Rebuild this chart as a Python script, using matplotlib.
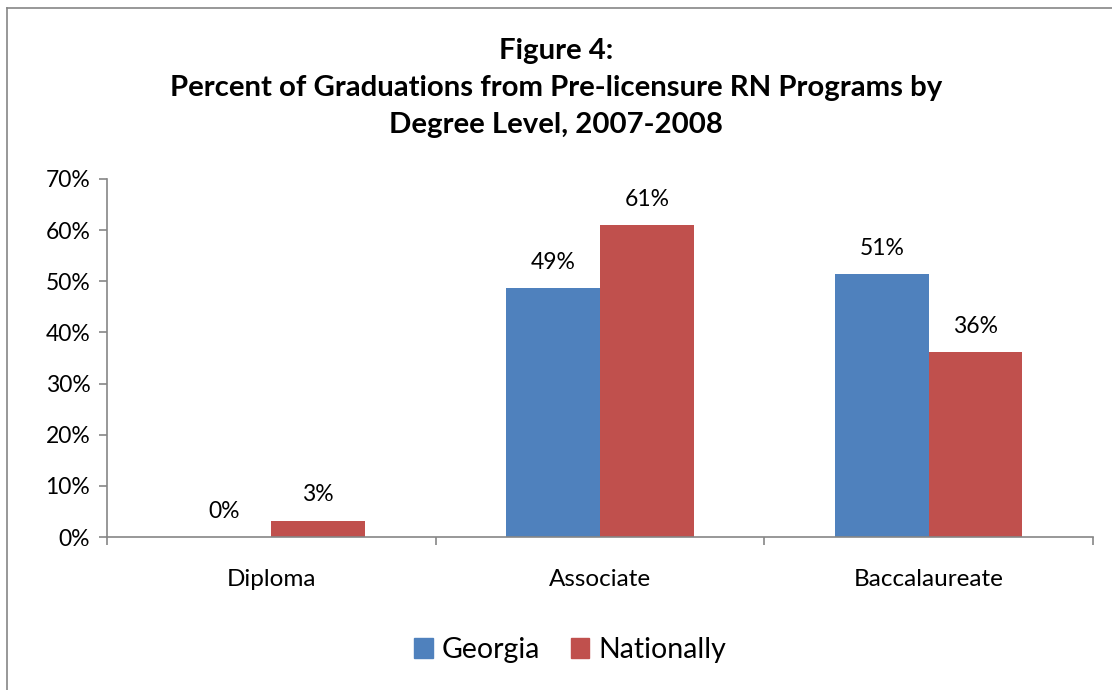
import numpy as np
import matplotlib.pyplot as plt
from matplotlib.lines import Line2D
from matplotlib.patches import Patch

categories = ['Diploma', 'Associate', 'Baccalaureate']
georgia = [0.0, 48.7, 51.4]
nationally = [3.2, 61.0, 36.1]
georgia_labels = ['0%', '49%', '51%']
nationally_labels = ['3%', '61%', '36%']
yticks = [0, 10, 20, 30, 40, 50, 60, 70]

blue = '#4F81BD'
red = '#C0504D'
axis_gray = '#868686'

plt.rcParams['font.family'] = ['Lato', 'DejaVu Sans']

fig = plt.figure(figsize=(11.12, 6.9), dpi=100)
ax = fig.add_axes([107 / 1112, 153 / 690, (1093 - 107) / 1112, (537 - 179) / 690])

x = np.arange(len(categories))
w = 0.285
b1 = ax.bar(x - w / 2, georgia, w, color=blue, label='Georgia')
b2 = ax.bar(x + w / 2, nationally, w, color=red, label='Nationally')

for bars, labels in ((b1, georgia_labels), (b2, nationally_labels)):
    for r, t in zip(bars, labels):
        ax.annotate(t, (r.get_x() + r.get_width() / 2, r.get_height()),
                    xytext=(0, 11), textcoords='offset points',
                    ha='center', va='bottom', fontsize=16.5)

ax.set_xlim(-0.5, 2.5)
ax.set_ylim(0, 70)
ax.set_yticks(yticks)
ax.set_yticklabels([f'{v}%' for v in yticks], fontsize=16.5)
ax.set_xticks([-0.5, 0.5, 1.5, 2.5])
ax.set_xticklabels([])
ax.set_xticks(x, minor=True)
ax.set_xticklabels(categories, minor=True, fontsize=17.5)
ax.tick_params(axis='x', which='minor', length=0, pad=23)
ax.tick_params(axis='x', which='major', length=6, color=axis_gray, width=1.2)
ax.tick_params(axis='y', length=6, color=axis_gray, width=1.2, pad=6)

for s in ('top', 'right'):
    ax.spines[s].set_visible(False)
for s in ('left', 'bottom'):
    ax.spines[s].set_color(axis_gray)
    ax.spines[s].set_linewidth(1.2)

fig.text(0.5, 1 - 88 / 690, 'Figure 4:\nPercent of Graduations from Pre-licensure RN Programs by\nDegree Level, 2007-2008',
         ha='center', va='center', fontsize=21.2, fontweight='bold', linespacing=1.5)

# chart border
fig.add_artist(Line2D([7 / 1112, 7 / 1112], [0, 1 - 8 / 690], color=axis_gray, lw=1.2))
fig.add_artist(Line2D([7 / 1112, 1], [1 - 8 / 690, 1 - 8 / 690], color=axis_gray, lw=1.2))

handles = [Patch(color=blue, label='Georgia'), Patch(color=red, label='Nationally')]
fig.legend(handles=handles, loc='center', bbox_to_anchor=(570 / 1112, 1 - 650 / 690), ncol=2,
           frameon=False, fontsize=20.5, handlelength=0.65, handleheight=0.65,
           handletextpad=0.3, columnspacing=1.1)

fig.savefig('out.png', dpi=100)
